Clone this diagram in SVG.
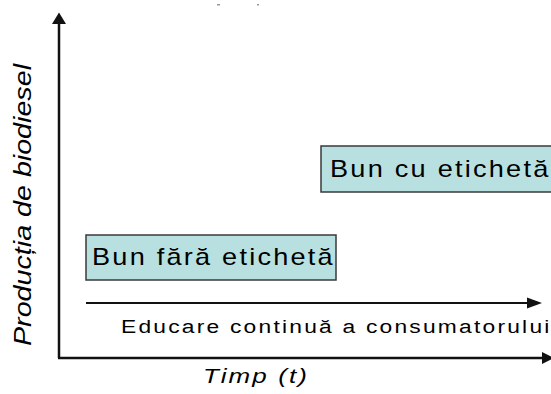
<svg xmlns="http://www.w3.org/2000/svg" width="551" height="394" viewBox="0 0 551 394">
<style>
.box{fill:#b9e0e1;stroke:#3a3a3a;stroke-width:1.5}
.lbl{font-family:"Liberation Sans",Arial,sans-serif;fill:#000}
.ax{stroke:#111;stroke-width:2.5;fill:none}
.ar{stroke:#111;stroke-width:2;fill:none}
</style>
<rect width="551" height="394" fill="#fff"/>
<rect x="217" y="4" width="3" height="1.5" fill="#999"/>
<rect x="257" y="4" width="2" height="1.5" fill="#999"/>
<g id="connectors">
<line class="ax" x1="59" y1="358" x2="59" y2="24"/>
<path d="M52,24 L59,12.5 L66,24 Z" fill="#111"/>
<line class="ax" x1="58" y1="358" x2="543" y2="358"/>
<path d="M542,352 L554,358 L542,364 Z" fill="#111"/>
<line class="ar" x1="86" y1="303" x2="528" y2="303"/>
<path d="M527,297.5 L542,303 L527,308.5 Z" fill="#111"/>
</g>
<g id="ylabel">
<text class="lbl" font-style="italic" font-size="24" transform="translate(31,346) rotate(-90)" textLength="282" lengthAdjust="spacingAndGlyphs">Producția de biodiesel</text>
</g>
<g id="xlabel">
<text class="lbl" font-style="italic" font-size="20" transform="translate(203,383) scale(1.3,1)" textLength="80" lengthAdjust="spacing">Timp (t)</text>
</g>
<g id="box1">
<rect class="box" x="86" y="235" width="250" height="45"/>
<text class="lbl" font-size="23" transform="translate(92,265) scale(1.18,1)" textLength="204" lengthAdjust="spacing">Bun fără etichetă</text>
</g>
<g id="box2">
<rect class="box" x="321" y="146" width="240" height="46"/>
<text class="lbl" font-size="23" transform="translate(330,177) scale(1.18,1)" textLength="185" lengthAdjust="spacing">Bun cu etichetă</text>
</g>
<g id="education">
<text class="lbl" font-size="19" transform="translate(121,333) scale(1.2,1)" textLength="357" lengthAdjust="spacing">Educare continuă a consumatorului</text>
</g>
</svg>
